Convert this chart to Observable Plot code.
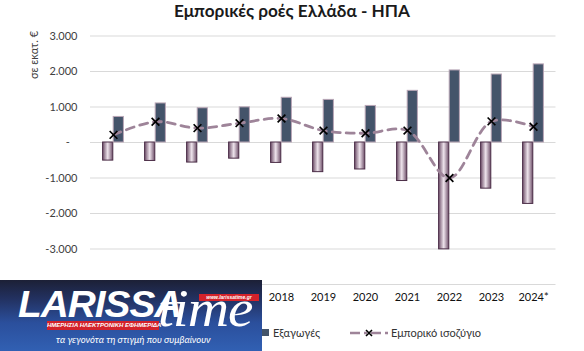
<!DOCTYPE html>
<html>
<head>
<meta charset="utf-8">
<script src="https://cdn.jsdelivr.net/npm/d3@7"></script>
<script src="https://cdn.jsdelivr.net/npm/@observablehq/plot@0.6"></script>
<style>
  html, body { margin: 0; padding: 0; background: #fff; }
  #wrap { position: relative; width: 584px; height: 351px; overflow: hidden; font-family: Lato, "Open Sans", sans-serif; }
  #chart { position: absolute; left: 0; top: 0; }
  .abs { position: absolute; white-space: nowrap; }
  #title { left: 0; width: 584px; top: 0px; text-align: center; font-weight: bold; font-size: 17.2px; color: #1a1a1a; padding-left: 0px; box-sizing: border-box; }
  #ytitle { left: 32.5px; top: 55px; transform: translate(-50%, -50%) rotate(-90deg); font-size: 11px; color: #404040; }
  .leg { font-size: 11px; color: #333; top: 326px; }
  .sq { width: 7px; height: 7px; top: 329px; }
  #logo { left: 0; top: 280px; width: 262px; height: 71px;
    background: linear-gradient(180deg, #1c2036 0%, #22305e 25%, #2b4f9c 60%, #3160b3 100%); overflow: hidden; }
  #logo .L { left: 22px; top: 4px; font: italic 900 37px "Liberation Sans", sans-serif; color: #fff; letter-spacing: -1px; transform: scaleX(1.05); }
  #logo .time { left: 158px; top: -1px; font: italic 400 53px/1.1 "Liberation Serif", serif; color: #fff; transform: scaleX(1.08); transform-origin: left; letter-spacing: -1px; }
  #logo .band { left: 47px; top: 41px; width: 112px; height: 9px; background: #d3222a; color: #fff; font: italic bold 6px "Liberation Sans", sans-serif; line-height: 9px; text-align: center; }
  #logo .www { left: 199px; top: 14px; width: 60px; height: 7px; background: #d3222a; color: #fff; font: italic bold 5px "Liberation Sans", sans-serif; line-height: 7px; text-align: center; }
  #logo .tag { left: 56px; top: 54px; width: 150px; text-align: center; font: italic 9.5px Lato, sans-serif; color: #fff; }
</style>
</head>
<body>
<div id="wrap">
  <div id="chart"></div>
  <div id="title" class="abs">Εμπορικές ροές Ελλάδα - ΗΠΑ</div>
  <div id="ytitle" class="abs">σε εκατ. €</div>
  <div class="abs sq" style="left:185px;background:#7a5a75"></div>
  <div class="abs leg" style="left:196px;">Εισαγωγές</div>
  <div class="abs sq" style="left:262px;background:#44546A"></div>
  <div class="abs leg" style="left:273px;">Εξαγωγές</div>
  <svg class="abs" style="left:345px;top:326px" width="46" height="14">
    <line x1="5" y1="7" x2="43" y2="7" stroke="#9e8499" stroke-width="2.6" stroke-dasharray="10,4,3,4"/>
    <path d="M21,4L27,10M27,4L21,10" stroke="#000" stroke-width="1.6"/>
  </svg>
  <div class="abs leg" style="left:391px;">Εμπορικό ισοζύγιο</div>
  <div id="logo" class="abs">
    <div class="abs L">LARISSA</div>
    <div class="abs time">time</div>
    <div class="abs www">www.larissatime.gr</div>
    <div class="abs band">ΗΜΕΡΗΣΙΑ ΗΛΕΚΤΡΟΝΙΚΗ ΕΦΗΜΕΡΙΔΑ</div>
    <div class="abs tag">τα γεγονότα τη στιγμή που συμβαίνουν</div>
  </div>
</div>
<script>
const years = ["2014","2015","2016","2017","2018","2019","2020","2021","2022","2023","2024*"];
const imports = [-510, -520, -565, -455, -575, -835, -760, -1085, -3010, -1300, -1730];
const exports = [720, 1100, 965, 990, 1260, 1200, 1030, 1455, 2030, 1915, 2200];
const balance = [215, 585, 405, 545, 675, 335, 260, 335, -1000, 595, 445];
const yTicks = [-4000, -3000, -2000, -1000, 0, 1000, 2000, 3000];

const impData = years.map((y, i) => ({year: y, value: imports[i]}));
const expData = years.map((y, i) => ({year: y, value: exports[i]}));
const balData = years.map((y, i) => ({year: y, value: balance[i]}));

const fmt = v => v === 0 ? "-\u2007\u2009" : d3.format(",")(v).replace(/,/g, ".").replace("−", "-");

const plot = Plot.plot({
  width: 584,
  height: 310,
  marginLeft: 90,
  marginRight: 28.5,
  marginTop: 35.5,
  marginBottom: 26,
  style: {fontFamily: "Lato, sans-serif", fontSize: "11px", background: "transparent"},
  x: {domain: years, type: "band", paddingInner: 0, paddingOuter: 0, label: null},
  y: {domain: [-4000, 3000], label: null},
  marks: [
    Plot.gridY(yTicks, {stroke: "#d9d9d9", strokeOpacity: 1, strokeWidth: 1}),
    Plot.barY(impData, {x: "year", y: "value", fill: "url(#impGrad)", stroke: "#4b2d47", strokeWidth: 1, insetLeft: 10.6, insetRight: 21.2}),
    Plot.barY(expData, {x: "year", y: "value", fill: "#44546A", stroke: "#b9a6b6", strokeWidth: 1, insetLeft: 21.2, insetRight: 10.6}),
    Plot.line(balData, {x: "year", y: "value", stroke: "#9e8499", strokeWidth: 2.8, strokeDasharray: "8,6", curve: "catmull-rom"}),
    Plot.dot(balData, {x: "year", y: "value", symbol: "times", r: 3.6, stroke: "#000", strokeWidth: 1.7}),
    Plot.axisY(yTicks, {tickSize: 0, tickPadding: 13, tickFormat: fmt, fill: "#404040", fontSize: 11}),
    Plot.axisX({tickSize: 0, tickPadding: 9, fill: "#111", fontSize: 11})
  ]
});

const ns = "http://www.w3.org/2000/svg";
const defs = document.createElementNS(ns, "defs");
defs.innerHTML = `<linearGradient id="impGrad" x1="0" x2="1" y1="0" y2="0">
  <stop offset="0" stop-color="#6e4f69"/>
  <stop offset="0.5" stop-color="#eee4ec"/>
  <stop offset="1" stop-color="#6e4f69"/>
</linearGradient>`;
plot.insertBefore(defs, plot.firstChild);
document.getElementById("chart").appendChild(plot);
</script>
</body>
</html>
